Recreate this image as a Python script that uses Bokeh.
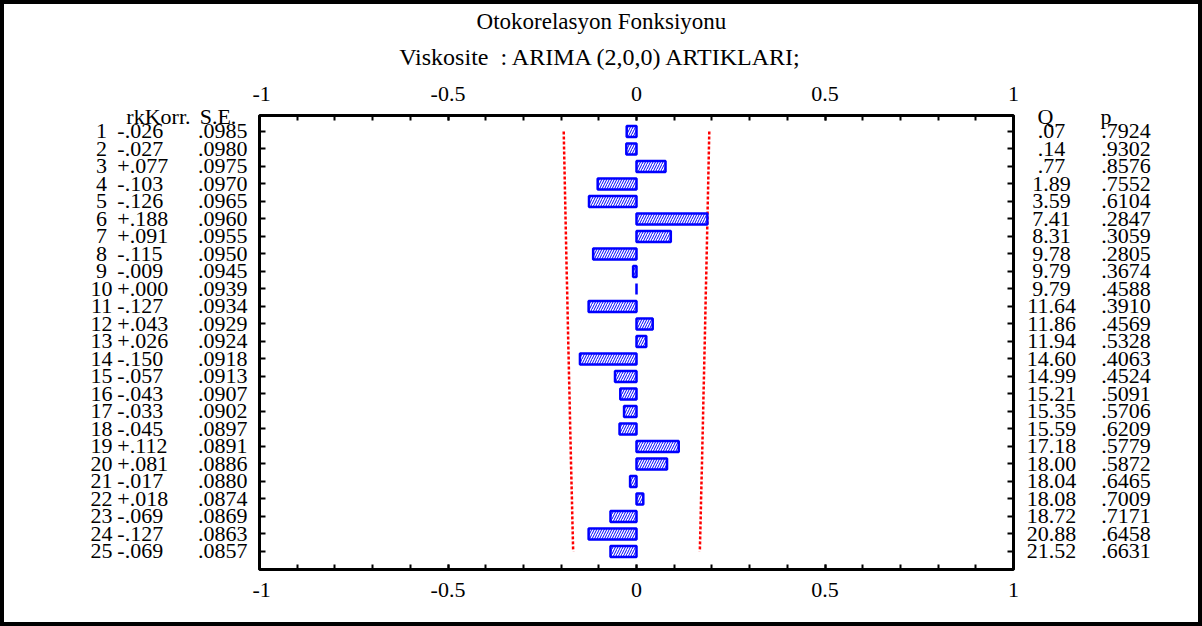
from bokeh.plotting import figure
from bokeh.layouts import column, row
from bokeh.models import Range1d, FixedTicker, LinearAxis, ColumnDataSource
from bokeh.core.properties import value
from bokeh.embed import file_html
from bokeh.resources import INLINE

# ---- data ----
lags = list(range(1, 26))
acf = [-0.026, -0.027, 0.077, -0.103, -0.126, 0.188, 0.091, -0.115, -0.009, 0.000,
       -0.127, 0.043, 0.026, -0.150, -0.057, -0.043, -0.033, -0.045, 0.112, 0.081,
       -0.017, 0.018, -0.069, -0.127, -0.069]
se = [0.0985, 0.0980, 0.0975, 0.0970, 0.0965, 0.0960, 0.0955, 0.0950, 0.0945, 0.0939,
      0.0934, 0.0929, 0.0924, 0.0918, 0.0913, 0.0907, 0.0902, 0.0897, 0.0891, 0.0886,
      0.0880, 0.0874, 0.0869, 0.0863, 0.0857]
q_stat = [0.07, 0.14, 0.77, 1.89, 3.59, 7.41, 8.31, 9.78, 9.79, 9.79,
          11.64, 11.86, 11.94, 14.60, 14.99, 15.21, 15.35, 15.59, 17.18, 18.00,
          18.04, 18.08, 18.72, 20.88, 21.52]
p_val = [0.7924, 0.9302, 0.8576, 0.7552, 0.6104, 0.2847, 0.3059, 0.2805, 0.3674, 0.4588,
         0.3910, 0.4569, 0.5328, 0.4063, 0.4524, 0.5091, 0.5706, 0.6209, 0.5779, 0.5872,
         0.6465, 0.7009, 0.7171, 0.6458, 0.6631]
x_ticks = [-1, -0.5, 0, 0.5, 1]
x_minor = [round(-1 + 0.1 * i, 1) for i in range(21)]
z_conf = 1.96

title_text = "Otokorelasyon Fonksiyonu"
subtitle_text = "Viskosite\u00a0\u00a0: ARIMA (2,0,0) ARTIKLARI;"
hdr_left = ["rkKorr.", "S.E."]
hdr_right = ["Q", "p"]

FONT = "Liberation Serif"
FS = "22px"

def fmt_r(v):
    s = f"{v:+.3f}"
    return s[0] + s[2:]

def fmt_dec(v, d):
    s = f"{v:.{d}f}"
    return s[1:] if s.startswith("0") else s

src = ColumnDataSource(dict(
    lag=lags,
    acf=acf,
    lag_txt=[str(l) for l in lags],
    r_txt=[fmt_r(v) for v in acf],
    se_txt=[fmt_dec(v, 4) for v in se],
    q_txt=[fmt_dec(v, 2) for v in q_stat],
    p_txt=[fmt_dec(v, 4) for v in p_val],
    lo=[-z_conf * s for s in se],
    hi=[z_conf * s for s in se],
))

# ---- layout geometry (pixels inside the 4px page border) ----
W, H = 1194, 618
TOP_H = 70
ROW_H = H - TOP_H
LEFT_W = 248
MAIN_BL, FRAME_W, MAIN_BR = 7, 754, 8
MAIN_W = MAIN_BL + FRAME_W + MAIN_BR
RIGHT_W = W - LEFT_W - MAIN_W
MAIN_BT, MAIN_BB = 41, 53
FRAME_H = ROW_H - MAIN_BT - MAIN_BB

Y0, Y1 = 0.086, 26.03           # main frame lag range (top, bottom)
upp_y = (Y1 - Y0) / FRAME_H      # lag units per pixel
upp_x = 2.0 / FRAME_W            # x units per pixel

def common(fig):
    fig.xgrid.visible = False
    fig.ygrid.visible = False
    fig.background_fill_color = "white"
    fig.border_fill_color = "white"
    fig.frame_align = False

# ---- main chart ----
p = figure(width=MAIN_W, height=ROW_H, output_backend="svg", toolbar_location=None,
           x_range=Range1d(-1, 1), y_range=Range1d(Y1, Y0),
           min_border_left=MAIN_BL, min_border_right=MAIN_BR,
           min_border_top=MAIN_BT, min_border_bottom=MAIN_BB)
common(p)
p.outline_line_color = "black"
p.outline_line_width = 3

def style_x(ax, standoff):
    ax.ticker = FixedTicker(ticks=x_ticks, minor_ticks=x_minor)
    ax.major_tick_in = 5
    ax.major_tick_out = 0
    ax.minor_tick_in = 5
    ax.minor_tick_out = 0
    ax.major_tick_line_width = 2
    ax.minor_tick_line_width = 2
    ax.axis_line_color = None
    ax.major_label_text_font = FONT
    ax.major_label_text_font_size = FS
    ax.major_label_text_color = "black"
    ax.major_label_standoff = standoff
    ax.major_label_overrides = {-1: "-1", -0.5: "-0.5", 0: "0", 0.5: "0.5", 1: "1"}

def style_y(ax):
    ax.ticker = FixedTicker(ticks=lags, minor_ticks=[])
    ax.major_tick_in = 6
    ax.major_tick_out = 0
    ax.major_tick_line_width = 2
    ax.axis_line_color = None
    ax.major_label_text_font_size = "0px"
    ax.major_label_text_color = None
    ax.major_label_standoff = 0

style_x(p.xaxis[0], 13)
top_ax = LinearAxis()
style_x(top_ax, 15)
p.add_layout(top_ax, "above")
style_y(p.yaxis[0])
right_ax = LinearAxis()
style_y(right_ax)
p.add_layout(right_ax, "right")

p.line(x="lo", y="lag", source=src, line_color="red", line_width=2.5, line_dash="3 2")
p.line(x="hi", y="lag", source=src, line_color="red", line_width=2.5, line_dash="3 2")

p.hbar(y="lag", left=0, right="acf", height=0.62, source=src,
       fill_color="white", line_color="blue", line_width=2.5,
       hatch_pattern="/", hatch_color="blue", hatch_scale=5, hatch_weight=1)

# ---- side tables share the main chart's scales ----
side_y = Range1d(Y1 + MAIN_BB * upp_y, Y0 - MAIN_BT * upp_y)
left_x = Range1d(-1 - (MAIN_BL + LEFT_W) * upp_x, -1 - MAIN_BL * upp_x)
right_x = Range1d(1 + MAIN_BR * upp_x, 1 + (MAIN_BR + RIGHT_W) * upp_x)

def side_fig(width, xr, yr, height):
    f = figure(width=width, height=height, output_backend="svg", toolbar_location=None,
               x_range=xr, y_range=yr, x_axis_type=None, y_axis_type=None, min_border=0)
    common(f)
    f.outline_line_color = None
    return f

left = side_fig(LEFT_W, left_x, side_y, ROW_H)
right = side_fig(RIGHT_W, right_x, side_y, ROW_H)

def txt(fig, x, y, field_or_text, align, size=FS, from_src=True):
    kw = dict(text_align=align, text_baseline="middle", text_font=value(FONT),
              text_font_size=size, text_color="black")
    if from_src:
        fig.text(x=x, y="lag", text=field_or_text, source=src, **kw)
    else:
        fig.text(x=[x], y=[y], text=[field_or_text], **kw)

HDR_Y = 0.12
txt(left, -1.419, None, "lag_txt", "center")
txt(left, -1.377, None, "r_txt", "left")
txt(left, -1.032, None, "se_txt", "right")
txt(left, -1.183, HDR_Y, hdr_left[0], "right", from_src=False)
txt(left, -1.110, HDR_Y, hdr_left[1], "center", from_src=False)

txt(right, 1.101, None, "q_txt", "center")
txt(right, 1.233, None, "p_txt", "left")
txt(right, 1.085, HDR_Y, hdr_right[0], "center", from_src=False)
txt(right, 1.231, HDR_Y, hdr_right[1], "left", from_src=False)

# ---- titles ----
top_x = Range1d(left_x.start, right_x.end)
top_y = Range1d(side_y.end, side_y.end - TOP_H * upp_y)
top = side_fig(W, top_x, top_y, TOP_H)
txt(top, -0.093, -5.286, title_text, "center", size="23px", from_src=False)
txt(top, -0.093, -3.229, subtitle_text, "center", size="24px", from_src=False)

layout = column(top, row(left, p, right, spacing=0), spacing=0,
                styles={"border": "4px solid black", "background-color": "white"})

open("out.html", "w").write(file_html(layout, INLINE))
